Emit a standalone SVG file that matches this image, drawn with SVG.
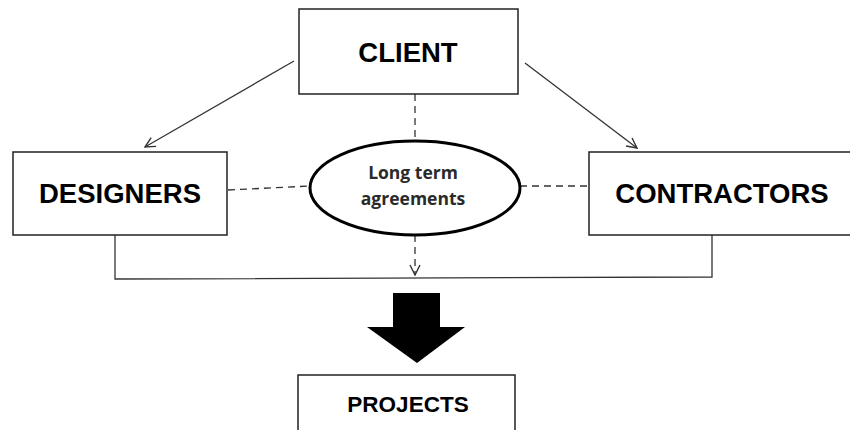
<svg xmlns="http://www.w3.org/2000/svg" width="850" height="430" viewBox="0 0 850 430">
  <style>
    .box { fill: #ffffff; stroke: #222222; stroke-width: 1.5; }
    .lbl { font-family: "Liberation Sans", Arial, sans-serif; font-weight: bold; fill: #000000; text-anchor: middle; }
    .ell { fill: #ffffff; stroke: #000000; stroke-width: 3; }
    .ellText { font-family: "Open Sans", "Liberation Sans", sans-serif; font-weight: 700; font-size: 17.5px; fill: #2a2a2a; text-anchor: middle; }
    .line { fill: none; stroke: #333333; stroke-width: 1.3; }
    .dash { fill: none; stroke: #333333; stroke-width: 1.3; stroke-dasharray: 7 5; }
  </style>
  <defs>
    <marker id="open" viewBox="0 0 12 12" refX="11" refY="6" markerWidth="12" markerHeight="12" markerUnits="userSpaceOnUse" orient="auto">
      <path d="M1,1 L11,6 L1,11" fill="none" stroke="#333333" stroke-width="1.4"/>
    </marker>
  </defs>

  <rect width="850" height="430" fill="#ffffff"/>

  <!-- connectors -->
  <g id="connectors">
    <line class="line" x1="294" y1="61" x2="145" y2="147" marker-end="url(#open)"/>
    <line class="line" x1="525" y1="63" x2="637" y2="148" marker-end="url(#open)"/>
    <line class="dash" x1="415" y1="94" x2="415" y2="141"/>
    <line class="dash" x1="228" y1="190" x2="310" y2="186"/>
    <line class="dash" x1="520" y1="186" x2="590" y2="186"/>
    <line class="dash" x1="415" y1="235" x2="415" y2="275" marker-end="url(#open)"/>
    <polyline class="line" points="115,235 115,279 712,277 712,235"/>
    <!-- large block arrow down to projects -->
    <polygon points="393,293 440,293 440,327 465,327 417,363 367,327 393,327" fill="#000000"/>
  </g>

  <g id="client">
    <rect class="box" x="299" y="9" width="219" height="85"/>
    <text class="lbl" x="408" y="62" font-size="27.5">CLIENT</text>
  </g>

  <g id="designers">
    <rect class="box" x="13" y="152" width="214" height="83"/>
    <text class="lbl" x="120" y="203" font-size="27.5">DESIGNERS</text>
  </g>

  <g id="agreements">
    <ellipse class="ell" cx="415" cy="188" rx="105" ry="47"/>
    <text class="ellText" x="413" y="179">Long term</text>
    <text class="ellText" x="413" y="205">agreements</text>
  </g>

  <g id="contractors">
    <rect class="box" x="589" y="152" width="270" height="83"/>
    <text class="lbl" x="722" y="203" font-size="27.5">CONTRACTORS</text>
  </g>

  <g id="projects">
    <rect class="box" x="298" y="375" width="217" height="70"/>
    <text class="lbl" x="408" y="412" font-size="22.5">PROJECTS</text>
  </g>
</svg>
